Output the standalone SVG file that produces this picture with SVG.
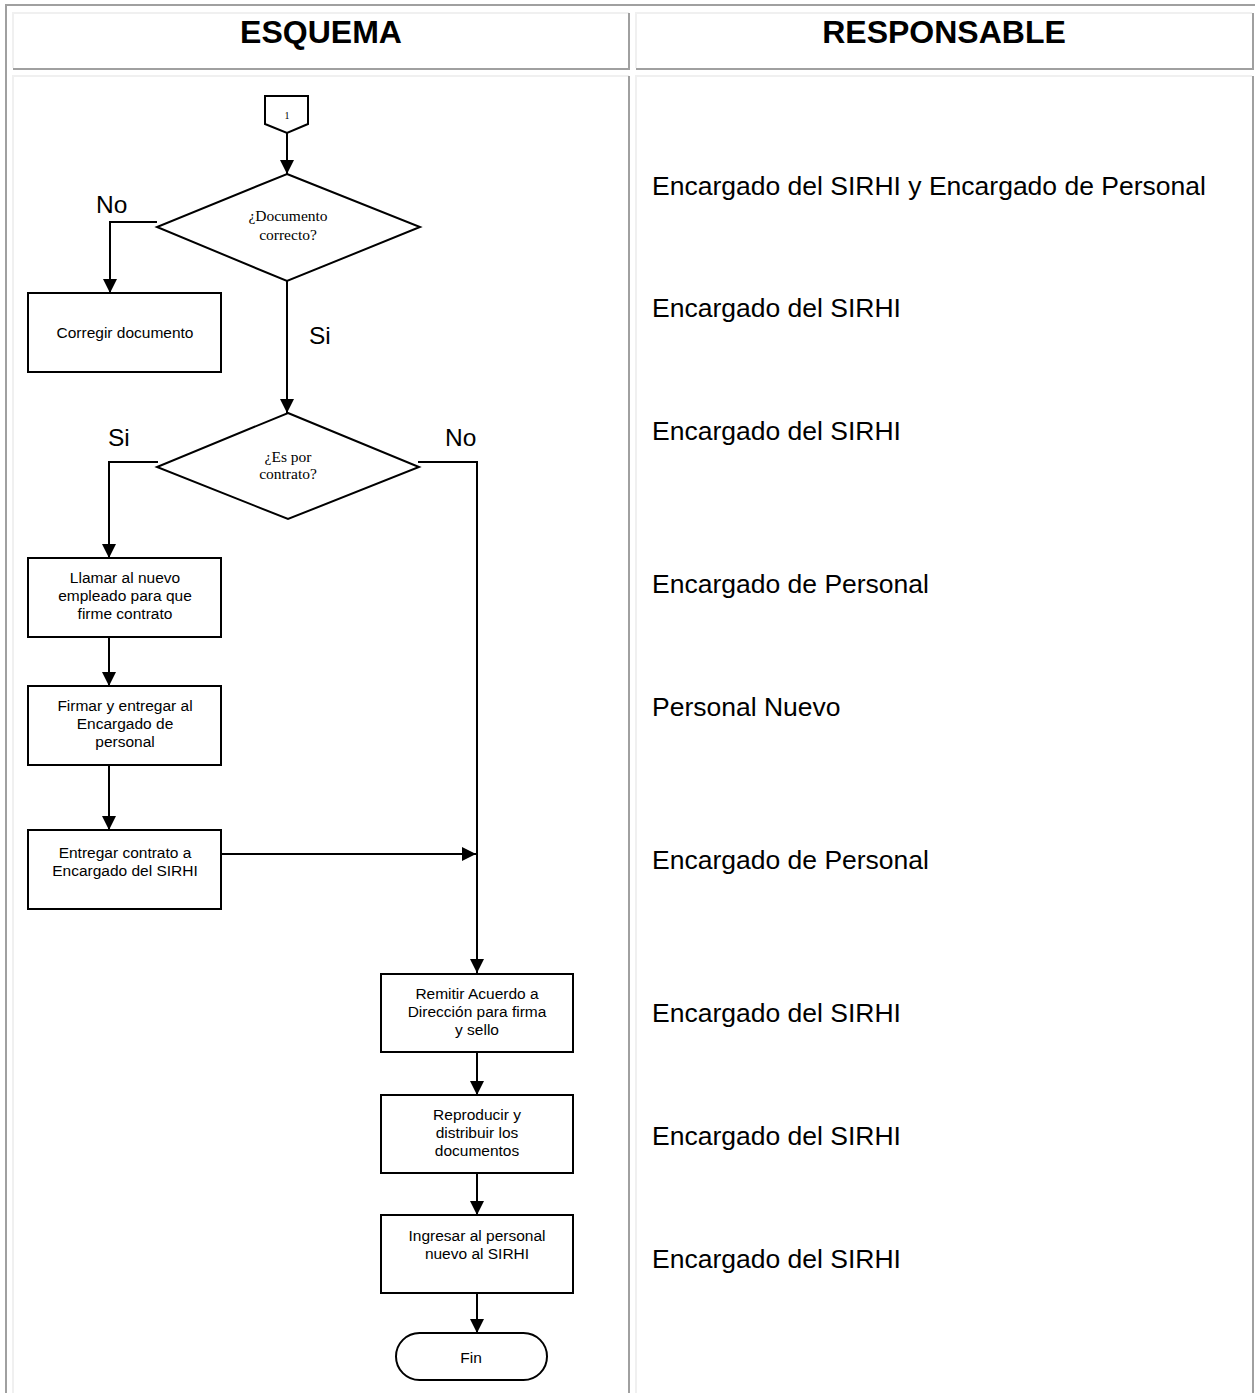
<svg xmlns="http://www.w3.org/2000/svg" width="1255" height="1393" viewBox="0 0 1255 1393">
  <style>
    .hdr { font-family: "Liberation Sans", Arial, sans-serif; font-size: 32px; font-weight: bold; fill: #000; text-anchor: middle; }
    .resp { font-family: "Liberation Sans", Arial, sans-serif; font-size: 26.5px; fill: #000; }
    .lbl { font-family: "Liberation Sans", Arial, sans-serif; font-size: 24.5px; fill: #000; }
    .box { fill: #fff; stroke: #000; stroke-width: 2; }
    .txt { font-family: "Liberation Sans", Arial, sans-serif; font-size: 15.5px; fill: #000; text-anchor: middle; }
    .qtxt { font-family: "Liberation Serif", "Times New Roman", serif; font-size: 15.5px; fill: #000; text-anchor: middle; }
    .conn { fill: none; stroke: #000; stroke-width: 2; }
    .light { stroke: #f0f0f0; stroke-width: 2; fill: none; }
    .dark { stroke: #a0a0a0; stroke-width: 2; fill: none; }
  </style>
  <defs>
    <marker id="arrow" viewBox="0 0 14 14" refX="14" refY="7" markerWidth="14" markerHeight="14" markerUnits="userSpaceOnUse" orient="auto">
      <path d="M0,0 L14,7 L0,14 Z" fill="#000"/>
    </marker>
  </defs>

  <rect width="1255" height="1393" fill="#fff"/>

  <!-- table frame -->
  <g id="table">
    <path class="dark" d="M6,1393 V5 H1255"/>
    <!-- header cells -->
    <path class="light" d="M13,68 V13 H629"/>
    <path class="dark" d="M13,69 H629 V13"/>
    <path class="light" d="M636,68 V13 H1252"/>
    <path class="dark" d="M636,69 H1253 V13"/>
    <!-- body cells -->
    <path class="light" d="M13,1393 V76 H629"/>
    <path class="dark" d="M629,76 V1393"/>
    <path class="light" d="M636,1393 V76 H1252"/>
    <path class="dark" d="M1253,76 V1393"/>
    <text class="hdr" x="321" y="43">ESQUEMA</text>
    <text class="hdr" x="944" y="43">RESPONSABLE</text>
  </g>

  <!-- connectors -->
  <g id="connectors">
    <path class="conn" d="M287,133 V174" marker-end="url(#arrow)"/>
    <path class="conn" d="M157,222 H110 V293" marker-end="url(#arrow)"/>
    <path class="conn" d="M287,281 V413" marker-end="url(#arrow)"/>
    <path class="conn" d="M158,462 H109 V558" marker-end="url(#arrow)"/>
    <path class="conn" d="M418,462 H477 V973" marker-end="url(#arrow)"/>
    <path class="conn" d="M109,637 V686" marker-end="url(#arrow)"/>
    <path class="conn" d="M109,765 V830" marker-end="url(#arrow)"/>
    <path class="conn" d="M221,854 H476" marker-end="url(#arrow)"/>
    <path class="conn" d="M477,1052 V1095" marker-end="url(#arrow)"/>
    <path class="conn" d="M477,1173 V1215" marker-end="url(#arrow)"/>
    <path class="conn" d="M477,1293 V1333" marker-end="url(#arrow)"/>
  </g>

  <!-- branch labels -->
  <g id="labels">
    <text class="lbl" x="96" y="213">No</text>
    <text class="lbl" x="309" y="344">Si</text>
    <text class="lbl" x="108" y="446">Si</text>
    <text class="lbl" x="445" y="446">No</text>
  </g>

  <g id="n-connector">
    <path class="box" d="M265,96 H308 V124 L287,133 L265,124 Z"/>
    <text x="287" y="119" font-family="Liberation Serif, serif" font-size="10" text-anchor="middle">1</text>
  </g>

  <g id="n-doc-ok">
    <path class="box" d="M287,174 L420,227 L287,281 L157,227 Z"/>
    <text class="qtxt" x="288" y="221">¿Documento</text>
    <text class="qtxt" x="288" y="240">correcto?</text>
  </g>

  <g id="n-corregir">
    <rect class="box" x="28" y="293" width="193" height="79"/>
    <text class="txt" x="125" y="338">Corregir documento</text>
  </g>

  <g id="n-contrato">
    <path class="box" d="M288,413 L419,467 L288,519 L157,467 Z"/>
    <text class="qtxt" x="288" y="462">¿Es por</text>
    <text class="qtxt" x="288" y="479">contrato?</text>
  </g>

  <g id="n-llamar">
    <rect class="box" x="28" y="558" width="193" height="79"/>
    <text class="txt" x="125" y="583">Llamar al nuevo</text>
    <text class="txt" x="125" y="601">empleado para que</text>
    <text class="txt" x="125" y="619">firme contrato</text>
  </g>

  <g id="n-firmar">
    <rect class="box" x="28" y="686" width="193" height="79"/>
    <text class="txt" x="125" y="711">Firmar y entregar al</text>
    <text class="txt" x="125" y="729">Encargado de</text>
    <text class="txt" x="125" y="747">personal</text>
  </g>

  <g id="n-entregar">
    <rect class="box" x="28" y="830" width="193" height="79"/>
    <text class="txt" x="125" y="858">Entregar contrato a</text>
    <text class="txt" x="125" y="876">Encargado del SIRHI</text>
  </g>

  <g id="n-remitir">
    <rect class="box" x="381" y="974" width="192" height="78"/>
    <text class="txt" x="477" y="999">Remitir Acuerdo a</text>
    <text class="txt" x="477" y="1017">Dirección para firma</text>
    <text class="txt" x="477" y="1035">y sello</text>
  </g>

  <g id="n-reproducir">
    <rect class="box" x="381" y="1095" width="192" height="78"/>
    <text class="txt" x="477" y="1120">Reproducir y</text>
    <text class="txt" x="477" y="1138">distribuir los</text>
    <text class="txt" x="477" y="1156">documentos</text>
  </g>

  <g id="n-ingresar">
    <rect class="box" x="381" y="1215" width="192" height="78"/>
    <text class="txt" x="477" y="1241">Ingresar al personal</text>
    <text class="txt" x="477" y="1259">nuevo al SIRHI</text>
  </g>

  <g id="n-fin">
    <rect class="box" x="396" y="1333" width="151" height="47" rx="23.5" ry="23.5"/>
    <text class="txt" x="471" y="1363">Fin</text>
  </g>

  <!-- responsible column -->
  <g id="responsables">
    <text class="resp" x="652" y="195">Encargado del SIRHI y Encargado de Personal</text>
    <text class="resp" x="652" y="317">Encargado del SIRHI</text>
    <text class="resp" x="652" y="440">Encargado del SIRHI</text>
    <text class="resp" x="652" y="593">Encargado de Personal</text>
    <text class="resp" x="652" y="716">Personal Nuevo</text>
    <text class="resp" x="652" y="869">Encargado de Personal</text>
    <text class="resp" x="652" y="1022">Encargado del SIRHI</text>
    <text class="resp" x="652" y="1145">Encargado del SIRHI</text>
    <text class="resp" x="652" y="1268">Encargado del SIRHI</text>
  </g>
</svg>
